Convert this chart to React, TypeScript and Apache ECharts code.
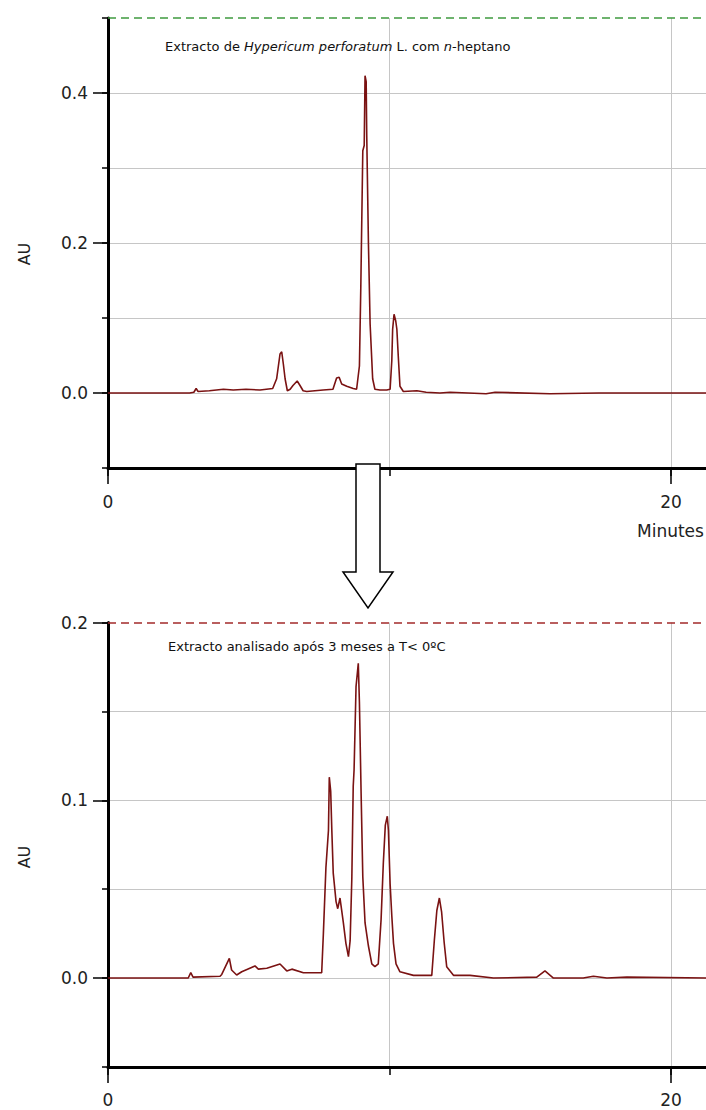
import { useEffect, useRef } from "react";
import * as echarts from "echarts";

// Chromatogram of the n-heptane extract (retention time in minutes, absorbance in AU)
const extractMinutes = [0, 2.9, 3.05, 3.13, 3.2, 3.6, 4.1, 4.45, 4.9, 5.4, 5.85, 5.99, 6.11, 6.17, 6.23, 6.29, 6.37, 6.47, 6.57, 6.72, 6.82, 6.93, 7.06, 7.35, 7.64, 7.99, 8.12, 8.21, 8.3, 8.48, 8.71, 8.83, 8.93, 8.98, 9.05, 9.1, 9.13, 9.17, 9.19, 9.25, 9.31, 9.4, 9.48, 9.66, 9.9, 10.02, 10.08, 10.11, 10.16, 10.22, 10.26, 10.31, 10.37, 10.49, 10.97, 11.3, 11.79, 12.15, 13.43, 13.75, 15.7, 17.44, 19.25, 21.24];
const extractAU = [0, 0, 0.001, 0.006, 0.002, 0.003, 0.005, 0.004, 0.005, 0.004, 0.006, 0.019, 0.052, 0.055, 0.038, 0.019, 0.003, 0.005, 0.01, 0.016, 0.01, 0.003, 0.002, 0.003, 0.004, 0.005, 0.02, 0.021, 0.012, 0.009, 0.006, 0.005, 0.036, 0.143, 0.323, 0.33, 0.423, 0.415, 0.343, 0.2, 0.092, 0.019, 0.005, 0.004, 0.004, 0.005, 0.043, 0.085, 0.105, 0.096, 0.085, 0.049, 0.009, 0.002, 0.003, 0.001, 0, 0.001, -0.001, 0.001, -0.001, 0, 0, 0];

// Same extract analysed after 3 months of storage
const storedMinutes = [0, 2.85, 2.94, 3.02, 3.98, 4.04, 4.31, 4.39, 4.57, 4.75, 5.22, 5.34, 5.64, 6.11, 6.35, 6.53, 6.94, 7.59, 7.65, 7.74, 7.83, 7.86, 7.91, 7.95, 8.0, 8.1, 8.16, 8.24, 8.3, 8.36, 8.45, 8.54, 8.6, 8.66, 8.71, 8.74, 8.81, 8.89, 8.93, 8.99, 9.05, 9.13, 9.25, 9.37, 9.48, 9.6, 9.7, 9.78, 9.85, 9.92, 9.96, 10.02, 10.08, 10.14, 10.23, 10.37, 10.85, 11.5, 11.59, 11.68, 11.77, 11.85, 11.94, 12.03, 12.27, 12.86, 13.69, 15.23, 15.52, 15.82, 16.88, 17.24, 17.72, 18.43, 21.24];
const storedAU = [0, 0, 0.003, 0.0005, 0.001, 0.002, 0.011, 0.0045, 0.0017, 0.0035, 0.0068, 0.005, 0.0055, 0.0079, 0.004, 0.005, 0.003, 0.003, 0.025, 0.062, 0.083, 0.113, 0.105, 0.083, 0.059, 0.043, 0.039, 0.045, 0.038, 0.031, 0.0195, 0.012, 0.021, 0.056, 0.108, 0.117, 0.164, 0.177, 0.155, 0.104, 0.057, 0.031, 0.018, 0.008, 0.0064, 0.008, 0.033, 0.065, 0.086, 0.091, 0.083, 0.053, 0.035, 0.0195, 0.008, 0.0035, 0.0015, 0.0015, 0.021, 0.038, 0.045, 0.037, 0.02, 0.0064, 0.0015, 0.0015, 0, 0.0005, 0.004, 0, 0, 0.001, 0, 0.0005, 0];

const topLabelTicks = [0, 0.2, 0.4];
const bottomLabelTicks = [0, 0.1, 0.2];
const timeLabelTicks = [0, 20];
const timeGridTicks = [0, 10, 20];

const T_MAX = 21.24;
const FONT = "DejaVu Sans";
const TRACE = "#7a1212";
const GRID_LINE = "#c6c6c6";
const LABEL = "#222";

const pairs = (xs: number[], ys: number[]) => xs.map((x, i) => [x, ys[i]]);

function timeAxes(gridIndex: number) {
  return [
    {
      type: "value",
      gridIndex,
      min: 0,
      max: T_MAX,
      position: "bottom",
      axisLine: { show: true, onZero: false, lineStyle: { color: "#000", width: 3 } },
      axisTick: { show: true, customValues: timeGridTicks, length: 8, lineStyle: { color: "#000", width: 1.5 } },
      axisLabel: { show: true, customValues: timeLabelTicks, margin: 25, fontSize: 17, color: LABEL, fontFamily: FONT },
      splitLine: { show: true, showMinLine: false, lineStyle: { color: GRID_LINE, width: 1 } },
    },
    {
      type: "value",
      gridIndex,
      min: 0,
      max: T_MAX,
      position: "bottom",
      axisLine: { show: false, onZero: false },
      axisTick: { show: true, customValues: timeLabelTicks, length: 16, lineStyle: { color: "#000", width: 1.5 } },
      axisLabel: { show: false },
      splitLine: { show: false },
    },
  ];
}

function auAxes(gridIndex: number, min: number, max: number, step: number, labelTicks: number[]) {
  return [
    {
      type: "value",
      gridIndex,
      min,
      max,
      interval: step,
      position: "left",
      axisLine: { show: true, onZero: false, lineStyle: { color: "#000", width: 3 } },
      axisTick: { show: true, length: 6, lineStyle: { color: "#000", width: 1.5 } },
      axisLabel: {
        show: true,
        customValues: labelTicks,
        formatter: (v: number) => v.toFixed(1),
        margin: 20,
        fontSize: 17,
        color: LABEL,
        fontFamily: FONT,
      },
      splitLine: { show: true, showMinLine: false, showMaxLine: false, lineStyle: { color: GRID_LINE, width: 1 } },
    },
    {
      type: "value",
      gridIndex,
      min,
      max,
      position: "left",
      axisLine: { show: false, onZero: false },
      axisTick: { show: true, customValues: labelTicks, length: 15, lineStyle: { color: "#000", width: 1.5 } },
      axisLabel: { show: false },
      splitLine: { show: false },
    },
  ];
}

function dashedTop(value: number, color: string) {
  return {
    silent: true,
    symbol: "none",
    label: { show: false },
    lineStyle: { color, type: [8, 5], width: 1.5 },
    data: [{ yAxis: value }],
  };
}

const titleStyle = (text: string) => ({
  text,
  fontSize: 13,
  fontFamily: FONT,
  fill: "#111",
  verticalAlign: "middle",
  rich: {
    i: { fontStyle: "italic", fontSize: 13, fontFamily: FONT, fill: "#111" },
  },
});

export default function App() {
  const ref = useRef<HTMLDivElement>(null);

  useEffect(() => {
    if (!ref.current) return;
    const chart = echarts.init(ref.current, null, { renderer: "svg" });

    chart.setOption({
      animation: false,
      backgroundColor: "#fff",
      textStyle: { fontFamily: FONT },
      grid: [
        { left: 108, right: 0, top: 18, height: 450 },
        { left: 108, right: 0, top: 622.5, height: 444.4 },
      ],
      xAxis: [...timeAxes(0), ...timeAxes(1)],
      yAxis: [
        ...auAxes(0, -0.1, 0.5, 0.1, topLabelTicks),
        ...auAxes(1, -0.05, 0.2, 0.05, bottomLabelTicks),
      ],
      series: [
        {
          type: "line",
          xAxisIndex: 0,
          yAxisIndex: 0,
          data: pairs(extractMinutes, extractAU),
          symbol: "none",
          lineStyle: { color: TRACE, width: 1.6 },
          z: 5,
          markLine: dashedTop(0.5, "#3f9b3f"),
        },
        {
          type: "line",
          xAxisIndex: 2,
          yAxisIndex: 2,
          data: pairs(storedMinutes, storedAU),
          symbol: "none",
          lineStyle: { color: TRACE, width: 1.6 },
          z: 5,
          markLine: dashedTop(0.2, "#a32a2a"),
        },
      ],
      graphic: [
        {
          type: "text",
          x: 165,
          y: 46,
          z: 50,
          style: titleStyle("Extracto de {i|Hypericum perforatum} L. com {i|n}-heptano"),
        },
        {
          type: "text",
          x: 168,
          y: 646,
          z: 50,
          style: titleStyle("Extracto analisado após 3 meses a T< 0ºC"),
        },
        {
          type: "text",
          x: 24,
          y: 254,
          rotation: Math.PI / 2,
          z: 50,
          style: { text: "AU", fontSize: 16, fontFamily: FONT, fill: LABEL, align: "center", verticalAlign: "middle" },
        },
        {
          type: "text",
          x: 24,
          y: 857,
          rotation: Math.PI / 2,
          z: 50,
          style: { text: "AU", fontSize: 16, fontFamily: FONT, fill: LABEL, align: "center", verticalAlign: "middle" },
        },
        {
          type: "text",
          x: 637,
          y: 531,
          z: 50,
          style: { text: "Minutes", fontSize: 17, fontFamily: FONT, fill: LABEL, align: "left", verticalAlign: "middle" },
        },
        {
          // hollow arrow pointing from the first run to the stored sample
          type: "polygon",
          z: 100,
          shape: {
            points: [
              [356, 464],
              [380, 464],
              [380, 572],
              [393, 572],
              [368, 608],
              [343, 572],
              [356, 572],
            ],
          },
          style: { fill: "#fff", stroke: "#000", lineWidth: 1.5 },
        },
      ],
    });

    return () => chart.dispose();
  }, []);

  return (
    <div
      ref={ref}
      style={{ position: "absolute", left: 0, top: 0, width: 706, height: 1110, background: "#fff" }}
    />
  );
}
